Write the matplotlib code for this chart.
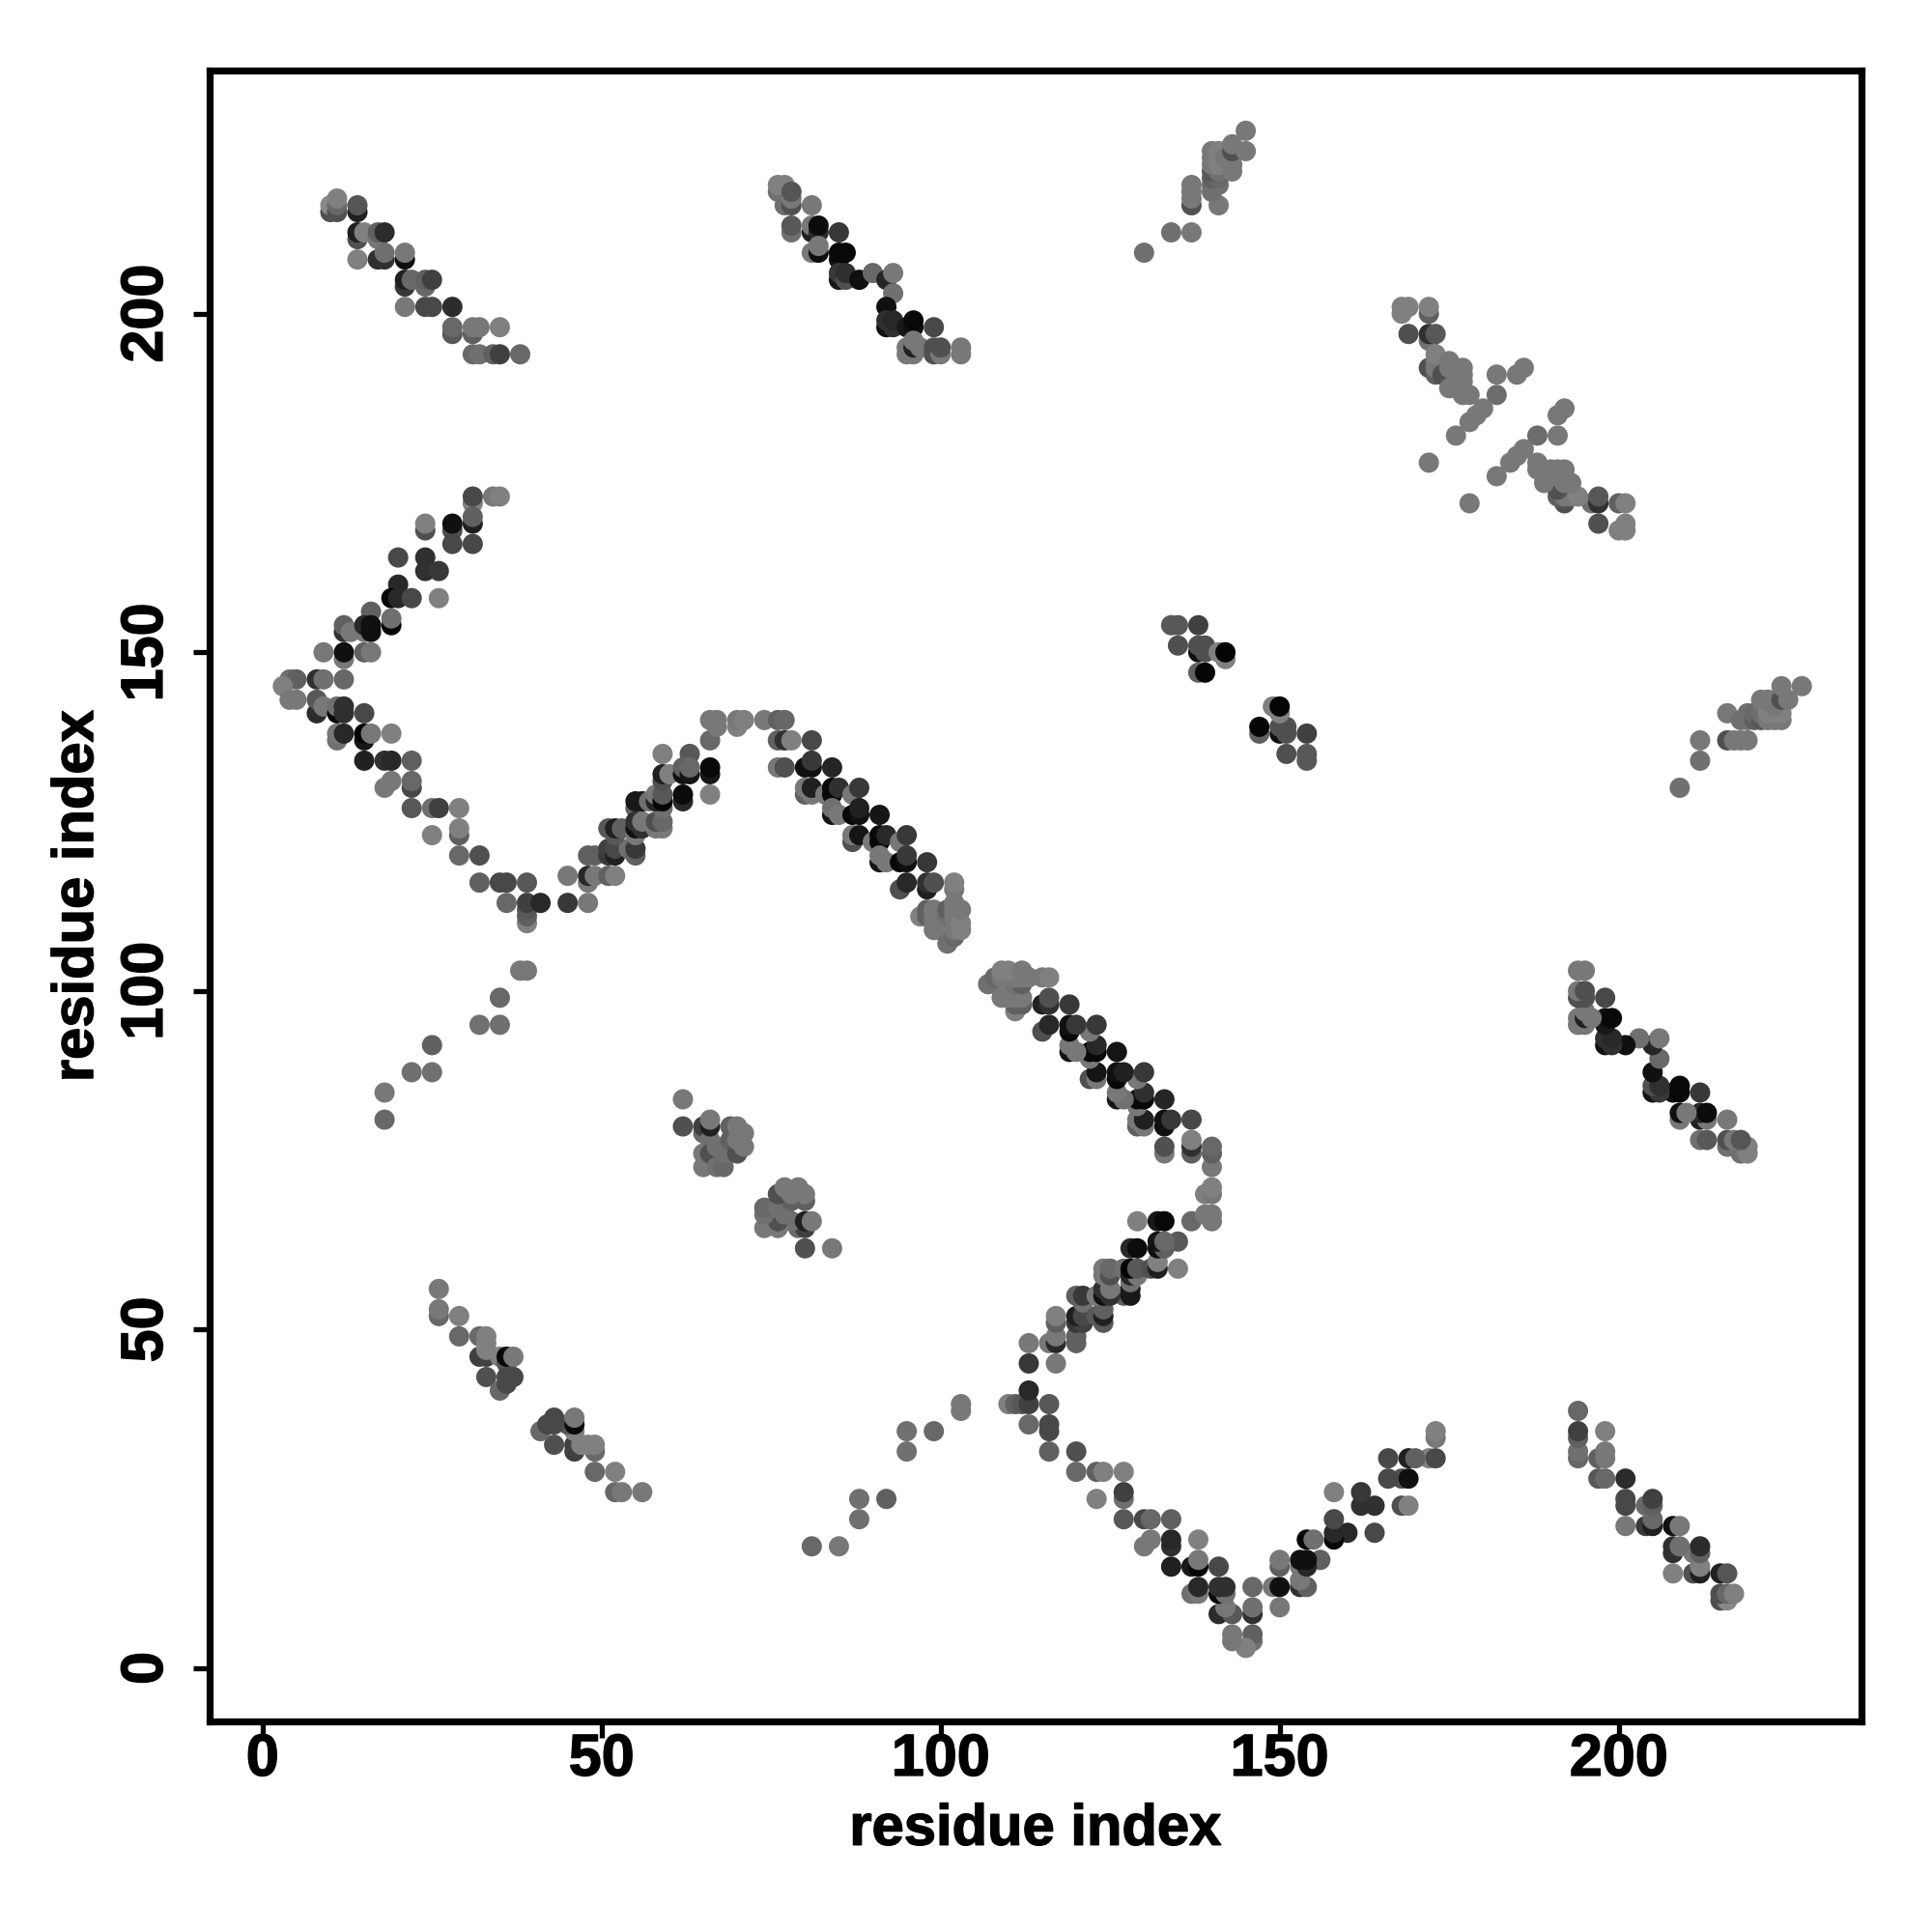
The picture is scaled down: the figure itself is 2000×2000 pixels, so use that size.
import matplotlib
matplotlib.use("Agg")
import matplotlib.pyplot as plt
import matplotlib.patheffects as pe

# residue pairs (i < j) and grey level 0-255, each contact is drawn at (i, j) and (j, i)
top_left_i = [10,10,11,11,11,14,14,14,14,15,17,17,18,14,17,18,18,21,21,21,21,22,24,24,25,21,24,25,28,28,28,31,31,32,35,31,32,34,35,38]
top_left_j = [215,216,215,216,217,215,216,211,212,212,211,212,212,208,208,208,209,208,209,204,205,205,204,205,205,201,201,201,201,197,198,197,198,198,198,194,194,194,194,194]
top_left_g = [80,136,80,104,128,32,85,80,32,128,120,96,44,128,48,48,112,16,120,56,32,104,104,96,64,120,72,72,44,88,104,96,120,120,128,104,112,96,64,104]

top_mid_i = [76,76,77,77,78,78,78,81,78,78,81,81,82,82,85,81,82,82,85,85,86,85,85,86,86,88,90,92,93,93,92,92,92,93,93,95,96,96,99,95,95,96,96,96,97,99,99,100,100,103,103]
top_mid_j = [218,219,219,216,216,217,218,216,212,213,212,213,212,213,212,209,209,210,208,209,209,205,206,205,206,205,206,205,206,203,201,198,199,198,199,198,198,199,198,194,195,194,195,196,195,194,195,194,195,194,195]
top_mid_g = [112,128,128,112,80,120,85,120,112,88,32,120,40,12,56,120,16,120,16,8,8,21,56,80,48,16,104,37,120,112,16,16,48,48,40,24,16,8,72,120,120,120,32,120,120,80,80,120,80,120,120]

top_right_i = [130,134,137,137,137,137,137,141,140,140,141,140,141,140,141,140,140,140,141,141,141,142,143,143,143,143,145,145]
top_right_j = [209,212,212,216,217,218,219,216,218,219,219,220,220,221,221,222,223,224,222,223,224,223,221,222,224,225,224,227]
top_right_g = [112,112,120,80,120,120,120,120,112,112,112,96,104,88,112,120,120,120,128,128,128,120,120,120,80,120,120,120]

cross_i = [168,168,169,172,172,172,169,172,173,172,173,173,173,173,174,175,175,175,176,176,176,176,177,177,177,177,178,182,185,186,182,180,179,178,176,172]
cross_j = [200,201,201,200,201,196,197,197,197,192,191,192,193,194,191,189,192,193,189,190,191,192,188,190,191,192,188,191,191,192,188,186,185,184,182,178]
cross_g = [128,128,128,96,128,112,80,48,88,80,96,120,120,128,80,120,120,120,120,120,120,120,120,120,120,120,120,120,120,120,108,120,120,120,120,120]

left_i = [31,31,34,35,31,31,31,28,28,28,24,24,20,24,24,26,20,19,20,22,26,16,19,19,12,12,13,15,15,16,16,9,12,12,15,16,4,5,3,8,9,12,4,5,8,8,9,11,11,12,12,15,
          11,11,12,15,15,16,19,15,18,19,22,19,18,22,22,22,25,26,29,25,29,29,29,32,32,35,36,39,36,39,39,39,39,41]
left_j = [172,173,173,173,169,170,166,168,169,166,168,169,164,164,162,162,160,158,158,158,158,156,154,155,153,154,153,153,154,153,154,150,149,150,150,150,146,146,145,146,146,146,143,143,141,143,142,141,142,141,142,141,
          137,138,138,137,138,138,138,134,134,134,134,131,130,130,131,127,127,127,127,123,123,124,120,120,116,116,116,116,113,110,111,112,113,113]
left_g = [128,72,120,128,32,96,72,80,16,72,80,128,72,48,48,56,40,8,40,72,128,96,5,112,48,96,120,120,40,16,16,120,120,16,96,120,112,96,128,48,112,104,120,120,44,88,120,8,112,48,48,72,
          112,120,40,24,5,120,128,32,48,40,96,120,120,72,104,88,112,64,128,128,96,128,104,80,96,72,72,88,104,128,96,88,64,40]

mid_up_i = [45,48,45,48,48,49,51,52,48,49,51,51,52,52,54,55,55,51,52,52,53,55,55,56,57,55,55,55,56,56,58,59,58,59,59,58,58,59,59,62,62,66,59,59,60,59,63,62,62,63,63,66,66,66,66,67,67,70,70,71,74,76,77,76,77,78,76,77]
mid_up_j = [113,113,117,116,117,117,117,117,120,120,120,121,120,121,121,120,121,124,123,124,124,127,128,128,128,123,124,125,124,125,124,124,125,125,127,128,129,128,129,128,129,129,131,132,132,135,135,132,133,132,133,132,133,137,140,139,140,139,140,140,140,140,140,137,137,137,133,133]
mid_up_g = [56,120,120,120,40,120,96,128,96,96,56,64,32,72,112,96,56,88,88,32,96,96,24,24,112,120,16,48,48,120,120,120,80,104,112,37,120,5,88,40,12,128,80,32,128,128,88,16,96,21,104,24,8,104,120,120,120,128,120,128,120,96,104,96,48,128,120,80]

mid_down_i = [81,80,81,81,84,80,80,81,81,83,84,84,85,87,88,84,84,85,87,88,88,91,87,87,88,90,91,91,92,94,95,91,91,92,94,95,95,98,94,95,98,98,99,102,102,
              97,98,98,99,99,99,99,100,100,101,102,101,101,102,102,102,102,103,103,103]
mid_down_j = [137,133,133,134,133,129,130,129,130,129,129,130,130,129,130,126,127,126,126,126,127,126,122,123,123,122,122,123,123,122,123,119,120,119,119,119,120,119,115,116,115,116,116,115,116,
              111,111,112,109,110,111,112,109,110,107,108,111,112,109,111,112,113,109,110,112]
mid_down_g = [72,16,16,56,37,96,120,120,32,120,10,8,48,120,56,21,112,120,8,16,32,21,80,120,21,120,8,8,40,120,56,21,120,120,8,16,56,56,80,40,32,48,80,120,128,
              128,96,96,120,120,120,120,120,120,112,104,112,96,120,120,120,120,128,128,120]

blob_i = [62,62,65,65,66,66,66,65,65,66,67,67,68,68,69,69,70,70,70,71,71]
blob_j = [84,80,79,80,78,80,81,74,76,76,74,77,74,76,78,80,76,78,80,77,79]
blob_g = [120,80,104,64,112,32,120,120,120,80,112,112,104,112,96,96,80,120,120,120,120]

hairpin_i = [26,26,26,29,29,32,32,33,33,33,33,35,36,36,37,33,35,36,36,37]
hairpin_j = [56,52,53,52,49,49,46,46,47,48,49,46,45,46,46,43,41,42,43,43]
hairpin_g = [120,104,120,128,104,104,64,64,128,128,128,128,88,8,120,80,104,72,72,72]

strand_i = [18,18,22,25,25,32,35,35,38,39]
strand_j = [81,85,88,88,92,95,95,99,103,103]
strand_g = [104,120,112,112,96,112,112,104,120,120]

core_i = [134,135,138,135,138,138,139,139,141,142,142,138,139]
core_j = [154,154,154,151,150,151,150,151,150,149,150,147,147]
core_g = [88,88,64,80,16,80,80,80,128,128,5,96,5]

res_i = top_left_i + top_mid_i + top_right_i + cross_i + left_i + mid_up_i + mid_down_i + blob_i + hairpin_i + strand_i + core_i
res_j = top_left_j + top_mid_j + top_right_j + cross_j + left_j + mid_up_j + mid_down_j + blob_j + hairpin_j + strand_j + core_j
greys = top_left_g + top_mid_g + top_right_g + cross_g + left_g + mid_up_g + mid_down_g + blob_g + hairpin_g + strand_g + core_g

tick_vals = [0, 50, 100, 150, 200]

plt.rcParams['font.family'] = ['Liberation Sans', 'DejaVu Sans']
plt.rcParams['font.weight'] = 'bold'

fig = plt.figure(figsize=(10, 10), dpi=200)
ax = fig.add_axes([217/2000, 1-1782/2000, (1927-217)/2000, (1782-73)/2000])

ax.scatter(res_i + res_j, res_j + res_i, c=greys + greys, cmap='gray', vmin=0, vmax=255, s=57, linewidths=0)

ax.set_xlim(-7.8, 235.8)
ax.set_ylim(-7.85, 235.9)
ax.set_xticks(tick_vals)
ax.set_yticks(tick_vals)
ax.tick_params(length=6, width=1.9, labelsize=22)
ax.tick_params(axis='x', pad=-1.7)
ax.tick_params(axis='y', pad=7)
plt.setp(ax.get_yticklabels(), rotation=90, va='center')
for s in ax.spines.values():
    s.set_linewidth(2.6)

ax.set_xlabel("residue index", fontsize=21.5, fontweight='bold', labelpad=5.7)
ax.set_ylabel("residue index", fontsize=21.5, fontweight='bold', labelpad=5.7)

# the original bold face is a little heavier than Liberation
heavier = [pe.withStroke(linewidth=0.5, foreground='black')]
for t in ax.get_xticklabels() + ax.get_yticklabels() + [ax.xaxis.label, ax.yaxis.label]:
    t.set_path_effects(heavier)

fig.savefig("out.png", dpi=200)
